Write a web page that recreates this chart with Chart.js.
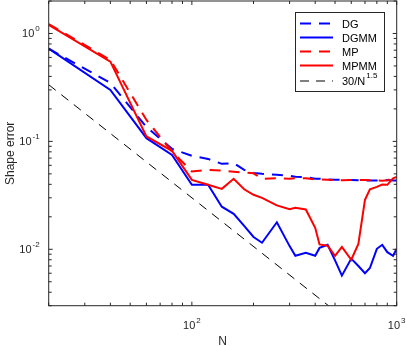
<!DOCTYPE html>
<html>
<head>
<meta charset="utf-8">
<script src="https://cdn.jsdelivr.net/npm/chart.js@4"></script>
<style>
  body { margin: 0; background: #fff; }
  canvas { display: block; }
</style>
</head>
<body>
<canvas id="chart" width="407" height="346"></canvas>
<script>
// N values (shared by the four error curves)
const nValues = [20, 40, 60, 80, 100, 120, 140, 160, 180, 200, 220, 260, 300, 320, 360, 400, 420, 460, 500, 540, 600, 650, 700, 740, 800, 850, 900, 960, 1000];

const dgErr   = [0.723, 0.348, 0.136, 0.0853, 0.0734, 0.0688, 0.0619, 0.063, 0.0545, 0.051, 0.050, 0.049, 0.048, 0.047, 0.0467, 0.045, 0.045, 0.0445, 0.044, 0.044, 0.0438, 0.0436, 0.0435, 0.0435, 0.0434, 0.0436, 0.0438, 0.0434, 0.0434];
const dgmmErr = [0.723, 0.300, 0.107, 0.075, 0.0396, 0.0396, 0.0248, 0.0213, 0.0165, 0.0130, 0.0115, 0.0178, 0.0107, 0.0087, 0.0093, 0.0087, 0.0103, 0.0110, 0.0079, 0.0057, 0.0082, 0.0070, 0.0060, 0.0067, 0.0101, 0.0110, 0.0094, 0.0087, 0.0101];
const mpErr   = [1.22, 0.569, 0.158, 0.0806, 0.0525, 0.0544, 0.0535, 0.0523, 0.0515, 0.0506, 0.045, 0.0456, 0.045, 0.0456, 0.0455, 0.0445, 0.0443, 0.044, 0.0437, 0.0437, 0.0438, 0.0438, 0.0438, 0.0436, 0.0434, 0.0432, 0.0436, 0.0455, 0.0452];
const mpmmErr = [1.20, 0.548, 0.111, 0.0817, 0.0440, 0.0396, 0.0363, 0.0450, 0.0360, 0.0320, 0.0300, 0.0255, 0.0235, 0.0242, 0.0234, 0.0158, 0.0111, 0.0108, 0.0087, 0.0105, 0.0080, 0.0112, 0.0287, 0.036, 0.0379, 0.0398, 0.0396, 0.0455, 0.0469];

// reference slope line 30/N^1.5
const refN   = [20, 1000];
const refErr = [0.335, 0.00095];

const seriesNames = ["DG", "DGMM", "MP", "MPMM", "30/N"];
const xTicks = [100, 1000];
const xTickExp = ["2", "3"];
const yTicks = [0.01, 0.1, 1];
const yTickExp = ["-2", "-1", "0"];

const FONT = "'Liberation Sans', Arial, sans-serif";
const AXIS = "#262626";

function pts(xs, ys) {
    return xs.map((x, i) => ({ x: x, y: ys[i] }));
}

function drawPow(ctx, exp, x, y, align) {
    ctx.font = "11px " + FONT;
    const wb = ctx.measureText("10").width;
    ctx.font = "8px " + FONT;
    const we = ctx.measureText(exp).width;
    const total = wb + 1 + we;
    let left = x;
    if (align === "center") left = x - total / 2;
    if (align === "right") left = x - total;
    ctx.textAlign = "left";
    ctx.textBaseline = "alphabetic";
    ctx.font = "11px " + FONT;
    ctx.fillText("10", left, y);
    ctx.font = "8px " + FONT;
    ctx.fillText(exp, left + wb + 1, y - 6);
}

const axesPlugin = {
    id: "matlabAxes",
    afterDraw(chart) {
        const ctx = chart.ctx;
        const a = chart.chartArea;
        const xs = chart.scales.x, ys = chart.scales.y;
        ctx.save();
        ctx.strokeStyle = AXIS;
        ctx.fillStyle = AXIS;
        ctx.lineWidth = 1;
        ctx.setLineDash([]);

        // x ticks (major + minor)
        for (let k = 1; k <= 3; k++) {
            for (let m = 1; m <= 9; m++) {
                const v = m * Math.pow(10, k);
                if (v < xs.min || v > xs.max) continue;
                const px = xs.getPixelForValue(v);
                const len = m === 1 ? 4 : 3;
                ctx.beginPath();
                ctx.moveTo(px, a.bottom); ctx.lineTo(px, a.bottom - len);
                ctx.moveTo(px, a.top); ctx.lineTo(px, a.top + len);
                ctx.stroke();
            }
        }
        // y ticks
        for (let k = -3; k <= 0; k++) {
            for (let m = 1; m <= 9; m++) {
                const v = m * Math.pow(10, k);
                if (v < ys.min || v > ys.max) continue;
                const py = ys.getPixelForValue(v);
                const len = m === 1 ? 4 : 3;
                ctx.beginPath();
                ctx.moveTo(a.left, py); ctx.lineTo(a.left + len, py);
                ctx.moveTo(a.right, py); ctx.lineTo(a.right - len, py);
                ctx.stroke();
            }
        }
        ctx.strokeRect(a.left, a.top, a.right - a.left, a.bottom - a.top);

        // tick labels
        xTicks.forEach((v, i) => drawPow(ctx, xTickExp[i], xs.getPixelForValue(v), a.bottom + 23, "center"));
        yTicks.forEach((v, i) => drawPow(ctx, yTickExp[i], a.left - 9, ys.getPixelForValue(v) + 4, "right"));

        // axis titles
        ctx.font = "12px " + FONT;
        ctx.textAlign = "center";
        ctx.textBaseline = "alphabetic";
        ctx.fillText("N", (a.left + a.right) / 2, 345);
        ctx.save();
        ctx.translate(14, (a.top + a.bottom) / 2);
        ctx.rotate(-Math.PI / 2);
        ctx.fillText("Shape error", 0, 0);
        ctx.restore();

        // legend
        const bx = 295.5, by = 12.5, bw = 89, bh = 79;
        ctx.fillStyle = "#fff";
        ctx.fillRect(bx, by, bw, bh);
        ctx.strokeStyle = AXIS;
        ctx.strokeRect(bx, by, bw, bh);
        const rows = [23.5, 37.5, 51.5, 65.5, 81];
        chart.data.datasets.forEach((ds, i) => {
            const y = rows[i];
            ctx.strokeStyle = ds.borderColor;
            ctx.lineWidth = ds.borderWidth;
            ctx.setLineDash(ds.borderDash || []);
            ctx.beginPath();
            ctx.moveTo(300, y); ctx.lineTo(333, y);
            ctx.stroke();
            ctx.setLineDash([]);
            ctx.fillStyle = "#000";
            ctx.textAlign = "left";
            ctx.textBaseline = "middle";
            ctx.font = "11px " + FONT;
            ctx.fillText(ds.label, 342, y + 1);
            if (i === 4) {
                const w = ctx.measureText(ds.label).width;
                ctx.font = "8px " + FONT;
                ctx.fillText("1.5", 342 + w + 1, y - 5);
            }
        });
        ctx.restore();
    }
};

const ctx = document.getElementById("chart").getContext("2d");
new Chart(ctx, {
    type: "line",
    data: {
        datasets: [
            { label: seriesNames[0], data: pts(nValues, dgErr), borderColor: "#0000ff", borderWidth: 2, borderDash: [11, 8], order: 5 },
            { label: seriesNames[1], data: pts(nValues, dgmmErr), borderColor: "#0000ff", borderWidth: 2, order: 4 },
            { label: seriesNames[2], data: pts(nValues, mpErr), borderColor: "#ff0000", borderWidth: 2, borderDash: [11, 8], order: 3 },
            { label: seriesNames[3], data: pts(nValues, mpmmErr), borderColor: "#ff0000", borderWidth: 2, order: 2 },
            { label: seriesNames[4], data: pts(refN, refErr), borderColor: "#000000", borderWidth: 1, borderDash: [9, 7], order: 1 }
        ]
    },
    options: {
        responsive: false,
        animation: false,
        devicePixelRatio: 1,
        layout: { padding: { left: 48.7, right: 10.3, top: 1, bottom: 40.3 } },
        elements: { point: { radius: 0 }, line: { tension: 0, fill: false } },
        plugins: { legend: { display: false }, tooltip: { enabled: false } },
        scales: {
            x: { type: "logarithmic", min: 20, max: 1000, display: false },
            y: { type: "logarithmic", min: 0.003, max: 2, display: false }
        }
    },
    plugins: [axesPlugin]
});
</script>
</body>
</html>
